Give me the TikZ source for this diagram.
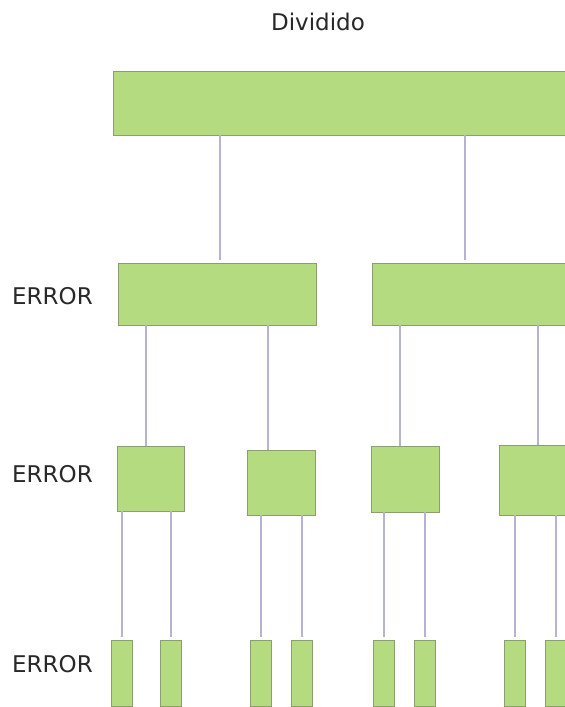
\documentclass[tikz,border=0pt]{standalone}
\usepackage{fontspec}
\setmainfont{DejaVu Sans}
\begin{document}
\begin{tikzpicture}[x=1pt, y=-1pt]
\tikzset{caja/.style={draw=borde, fill=verde, line width=0.8pt, inner sep=0pt}}
\tikzset{enlace/.style={draw=lila, line width=2pt}}
\tikzset{rotulo/.style={text=texto, font=\fontsize{23}{26}\selectfont, inner sep=0pt}}
\definecolor{verde}{RGB}{181,219,128}
\definecolor{borde}{RGB}{140,158,112}
\definecolor{lila}{RGB}{180,180,210}
\definecolor{texto}{RGB}{40,40,40}
\useasboundingbox (0,0) rectangle (565,707);
\clip (0,0) rectangle (565,707);
\node[rotulo] (T) at (318,22) {Dividido};
\node[rotulo, anchor=west] (E1) at (12,296) {ERROR};
\node[rotulo, anchor=west] (E2) at (12,474) {ERROR};
\node[rotulo, anchor=west] (E3) at (12,664) {ERROR};
\node[caja, minimum width=527, minimum height=64] (N0) at (376.5,103) {};
\node[caja, minimum width=198, minimum height=62] (A1) at (217,294) {};
\node[caja, minimum width=198, minimum height=62] (A2) at (471,294) {};
\node[caja, minimum width=67, minimum height=65] (B1) at (150.5,478.5) {};
\node[caja, minimum width=68, minimum height=65] (B2) at (281,482.5) {};
\node[caja, minimum width=68, minimum height=66] (B3) at (405,479) {};
\node[caja, minimum width=68, minimum height=70] (B4) at (533,480) {};
\node[caja, minimum width=21, minimum height=66] (C1) at (121.5,673) {};
\node[caja, minimum width=21, minimum height=66] (C2) at (170.5,673) {};
\node[caja, minimum width=21, minimum height=66] (C3) at (260.5,673) {};
\node[caja, minimum width=21, minimum height=66] (C4) at (301.5,673) {};
\node[caja, minimum width=21, minimum height=66] (C5) at (383.5,673) {};
\node[caja, minimum width=21, minimum height=66] (C6) at (424.5,673) {};
\node[caja, minimum width=21, minimum height=66] (C7) at (514.5,673) {};
\node[caja, minimum width=21, minimum height=66] (C8) at (555.5,673) {};
\draw[enlace] ([xshift=3pt, yshift=3pt]A1.north) -- ([xshift=3pt]A1.north |- N0.south);
\draw[enlace] ([xshift=-6pt, yshift=3pt]A2.north) -- ([xshift=-6pt]A2.north |- N0.south);
\draw[enlace] ([xshift=-4.5pt]B1.north) -- ([xshift=-4.5pt]B1.north |- A1.south);
\draw[enlace] ([xshift=-13pt]B2.north) -- ([xshift=-13pt]B2.north |- A1.south);
\draw[enlace] ([xshift=-5pt]B3.north) -- ([xshift=-5pt]B3.north |- A2.south);
\draw[enlace] ([xshift=5pt]B4.north) -- ([xshift=5pt]B4.north |- A2.south);
\draw[enlace] ([yshift=3pt]C1.north) -- (C1.north |- B1.south);
\draw[enlace] ([yshift=3pt]C2.north) -- (C2.north |- B1.south);
\draw[enlace] ([yshift=3pt]C3.north) -- (C3.north |- B2.south);
\draw[enlace] ([yshift=3pt]C4.north) -- (C4.north |- B2.south);
\draw[enlace] ([yshift=3pt]C5.north) -- (C5.north |- B3.south);
\draw[enlace] ([yshift=3pt]C6.north) -- (C6.north |- B3.south);
\draw[enlace] ([yshift=3pt]C7.north) -- (C7.north |- B4.south);
\draw[enlace] ([yshift=3pt]C8.north) -- (C8.north |- B4.south);
\end{tikzpicture}
\end{document}
